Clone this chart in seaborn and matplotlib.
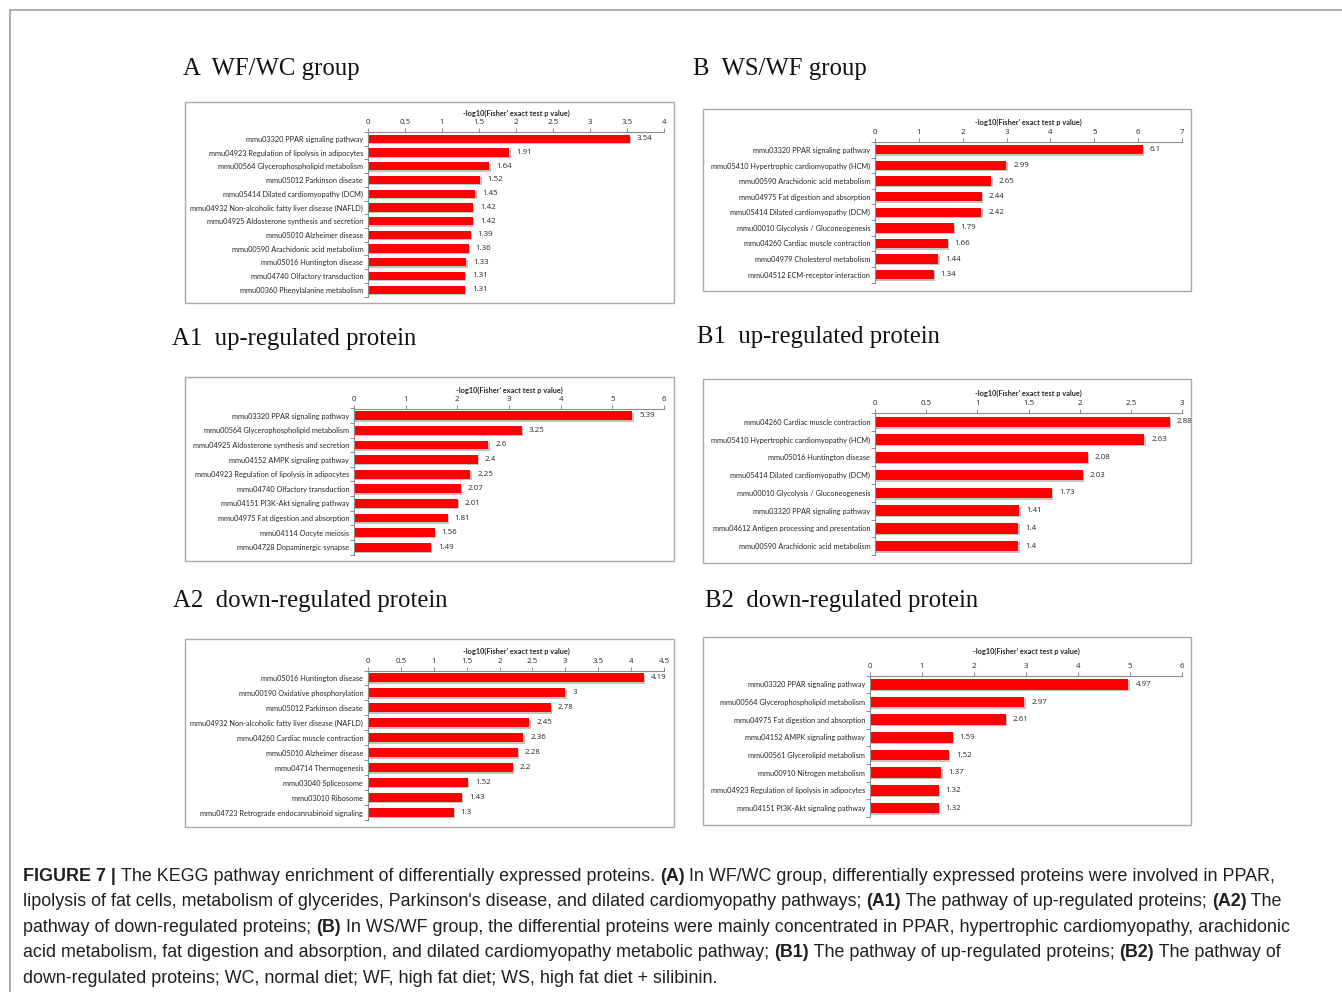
import matplotlib
matplotlib.use("Agg")
import matplotlib.pyplot as plt
import matplotlib.patheffects as pe
from matplotlib.patches import Rectangle
from matplotlib.lines import Line2D
import numpy as np
import pandas as pd
import seaborn as sns

# ---- data ----
a_terms = ["mmu03320 PPAR signaling pathway",
           "mmu04923 Regulation of lipolysis in adipocytes",
           "mmu00564 Glycerophospholipid metabolism",
           "mmu05012 Parkinson disease",
           "mmu05414 Dilated cardiomyopathy (DCM)",
           "mmu04932 Non-alcoholic fatty liver disease (NAFLD)",
           "mmu04925 Aldosterone synthesis and secretion",
           "mmu05010 Alzheimer disease",
           "mmu00590 Arachidonic acid metabolism",
           "mmu05016 Huntington disease",
           "mmu04740 Olfactory transduction",
           "mmu00360 Phenylalanine metabolism"]
a_vals = [3.54, 1.91, 1.64, 1.52, 1.45, 1.42, 1.42, 1.39, 1.36, 1.33, 1.31, 1.31]

b_terms = ["mmu03320 PPAR signaling pathway",
           "mmu05410 Hypertrophic cardiomyopathy (HCM)",
           "mmu00590 Arachidonic acid metabolism",
           "mmu04975 Fat digestion and absorption",
           "mmu05414 Dilated cardiomyopathy (DCM)",
           "mmu00010 Glycolysis / Gluconeogenesis",
           "mmu04260 Cardiac muscle contraction",
           "mmu04979 Cholesterol metabolism",
           "mmu04512 ECM-receptor interaction"]
b_vals = [6.1, 2.99, 2.65, 2.44, 2.42, 1.79, 1.66, 1.44, 1.34]

a1_terms = ["mmu03320 PPAR signaling pathway",
            "mmu00564 Glycerophospholipid metabolism",
            "mmu04925 Aldosterone synthesis and secretion",
            "mmu04152 AMPK signaling pathway",
            "mmu04923 Regulation of lipolysis in adipocytes",
            "mmu04740 Olfactory transduction",
            "mmu04151 PI3K-Akt signaling pathway",
            "mmu04975 Fat digestion and absorption",
            "mmu04114 Oocyte meiosis",
            "mmu04728 Dopaminergic synapse"]
a1_vals = [5.39, 3.25, 2.6, 2.4, 2.25, 2.07, 2.01, 1.81, 1.56, 1.49]

b1_terms = ["mmu04260 Cardiac muscle contraction",
            "mmu05410 Hypertrophic cardiomyopathy (HCM)",
            "mmu05016 Huntington disease",
            "mmu05414 Dilated cardiomyopathy (DCM)",
            "mmu00010 Glycolysis / Gluconeogenesis",
            "mmu03320 PPAR signaling pathway",
            "mmu04612 Antigen processing and presentation",
            "mmu00590 Arachidonic acid metabolism"]
b1_vals = [2.88, 2.63, 2.08, 2.03, 1.73, 1.41, 1.4, 1.4]

a2_terms = ["mmu05016 Huntington disease",
            "mmu00190 Oxidative phosphorylation",
            "mmu05012 Parkinson disease",
            "mmu04932 Non-alcoholic fatty liver disease (NAFLD)",
            "mmu04260 Cardiac muscle contraction",
            "mmu05010 Alzheimer disease",
            "mmu04714 Thermogenesis",
            "mmu03040 Spliceosome",
            "mmu03010 Ribosome",
            "mmu04723 Retrograde endocannabinoid signaling"]
a2_vals = [4.19, 3, 2.78, 2.45, 2.36, 2.28, 2.2, 1.52, 1.43, 1.3]

b2_terms = ["mmu03320 PPAR signaling pathway",
            "mmu00564 Glycerophospholipid metabolism",
            "mmu04975 Fat digestion and absorption",
            "mmu04152 AMPK signaling pathway",
            "mmu00561 Glycerolipid metabolism",
            "mmu00910 Nitrogen metabolism",
            "mmu04923 Regulation of lipolysis in adipocytes",
            "mmu04151 PI3K-Akt signaling pathway"]
b2_vals = [4.97, 2.97, 2.61, 1.59, 1.52, 1.37, 1.32, 1.32]

headings = ["A  WF/WC group", "B  WS/WF group",
            "A1  up-regulated protein", "B1  up-regulated protein",
            "A2  down-regulated protein", "B2  down-regulated protein"]
axis_title = "-log10(Fisher' exact test p value)"

# caption lines as (text, bold) segments
caption = [
    [("FIGURE 7 | ", True),
     ("The KEGG pathway enrichment of differentially expressed proteins. ", False),
     ("(A)", True),
     (" In WF/WC group, differentially expressed proteins were involved in PPAR,", False)],
    [("lipolysis of fat cells, metabolism of glycerides, Parkinson's disease, and dilated cardiomyopathy pathways; ", False),
     ("(A1)", True), (" The pathway of up-regulated proteins; ", False),
     ("(A2)", True), (" The", False)],
    [("pathway of down-regulated proteins; ", False), ("(B)", True),
     (" In WS/WF group, the differential proteins were mainly concentrated in PPAR, hypertrophic cardiomyopathy, arachidonic", False)],
    [("acid metabolism, fat digestion and absorption, and dilated cardiomyopathy metabolic pathway; ", False),
     ("(B1)", True), (" The pathway of up-regulated proteins; ", False),
     ("(B2)", True), (" The pathway of", False)],
    [("down-regulated proteins; WC, normal diet; WF, high fat diet; WS, high fat diet + silibinin.", False)],
]

# ---- layout (pixels) ----
W, H = 1342, 992
sns.set_theme(style="white")
plt.rcParams["font.family"] = ["Lato", "DejaVu Sans"]

fig = plt.figure(figsize=(W / 100, H / 100), dpi=100)
fig.patch.set_facecolor("white")

GRAY = "#8c8c8c"
TXT = "#262626"
LBL = 5.3
NUM_FONT = ["Open Sans", "DejaVu Sans"]
NUM = 5.7


def frac_rect(x0, y0, x1, y1):
    return [x0 / W, 1 - y1 / H, (x1 - x0) / W, (y1 - y0) / H]


def draw_panel(terms, vals, xmax, step, ax_px, box_px, title_y):
    bx = frac_rect(*box_px)
    fig.add_artist(Rectangle((bx[0], bx[1]), bx[2], bx[3], transform=fig.transFigure,
                             fill=False, ec="#a9a9a9", lw=1.0))
    ax = fig.add_axes(frac_rect(*ax_px))
    df = pd.DataFrame({"term": terms, "value": vals})
    sns.barplot(data=df, x="value", y="term", orient="h", color="#ff0000",
                saturation=1, width=0.6, ax=ax)
    for p in ax.patches:
        p.set_edgecolor("none")
        p.set_path_effects([pe.SimplePatchShadow(offset=(1.0, -1.0), shadow_rgbFace="#9a9a9a", alpha=0.6),
                            pe.Normal()])
    n = len(terms)
    ax.set_xlim(0, xmax)
    ax.set_ylim(n - 0.5, -0.5)
    ticks = np.arange(0, xmax + step / 2, step)
    ax.xaxis.tick_top()
    ax.set_xticks(ticks)
    ax.set_xticklabels([f"{t:g}" for t in ticks], family=NUM_FONT)
    ax.tick_params(axis="x", which="major", direction="out", length=3, width=0.7,
                   color=GRAY, labelsize=NUM, labelcolor=TXT, pad=1, top=True, bottom=False)
    ax.set_yticks(np.arange(n + 1) - 0.5, minor=True)
    ax.tick_params(axis="y", which="minor", direction="out", length=3, width=0.7, color=GRAY, left=True)
    ax.tick_params(axis="y", which="major", length=0, labelsize=LBL, labelcolor=TXT, pad=3.5)
    for s in ["bottom", "right"]:
        ax.spines[s].set_visible(False)
    for s in ["top", "left"]:
        ax.spines[s].set_color(GRAY)
        ax.spines[s].set_linewidth(0.8)
    ax.set_xlabel("")
    ax.set_ylabel("")
    ax.grid(False)
    for i, v in enumerate(vals):
        ax.annotate(f"{v:g}", xy=(v, i), xytext=(5, 0), textcoords="offset points",
                    va="center", ha="left", fontsize=NUM, family=NUM_FONT, color=TXT)
    cx = (ax_px[0] + ax_px[2]) / 2
    fig.text(cx / W, 1 - title_y / H, axis_title, ha="center", va="center",
             fontsize=LBL, fontweight="bold", color=TXT)
    return ax


draw_panel(a_terms, a_vals, 4, 0.5, (368, 132, 664, 296.5), (184.5, 101.5, 673.5, 302.5), 113)
draw_panel(b_terms, b_vals, 7, 1, (875, 142, 1182, 282.5), (703, 108.5, 1191, 290.5), 122)
draw_panel(a1_terms, a1_vals, 6, 1, (354, 408.5, 664, 554.5), (184.5, 376.5, 673.5, 561), 390)
draw_panel(b1_terms, b1_vals, 3, 0.5, (875, 413, 1182, 555), (703, 378.5, 1191, 563), 393.5)
draw_panel(a2_terms, a2_vals, 4.5, 0.5, (368, 670.5, 664, 820), (184.5, 638.5, 673.5, 826.5), 651.5)
draw_panel(b2_terms, b2_vals, 6, 1, (870, 675.5, 1182, 817), (703, 636.5, 1191, 824.5), 651.5)

# panel headings
head_pos = [(183, 75), (693, 75), (172, 345.5), (697, 343.5), (173, 607.5), (705, 607.5)]
for txt, (hx, hy) in zip(headings, head_pos):
    fig.text(hx / W, 1 - hy / H, txt, ha="left", va="baseline",
             family=["Liberation Serif", "DejaVu Serif"], fontsize=17.8, color="#111111")

# outer frame lines
fig.add_artist(Line2D([10 / W, 1], [1 - 10 / H, 1 - 10 / H], color="#a0a0a0", lw=1.2))
fig.add_artist(Line2D([10 / W, 10 / W], [1 - 10 / H, 0], color="#a0a0a0", lw=1.2))

# caption with mixed bold segments
over = fig.add_axes([0, 0, 1, 1])
over.axis("off")
cap_font = ["Liberation Sans", "DejaVu Sans"]
for li, segs in enumerate(caption):
    yc = 876.5 + 25.4 * li
    prev = None
    for s, bold in segs:
        kw = dict(fontsize=12.9, family=cap_font, color="#231f20",
                  fontweight="bold" if bold else "normal", va="center", ha="left")
        if prev is None:
            prev = over.text(23 / W, 1 - yc / H, s, transform=over.transAxes, **kw)
        else:
            prev = over.annotate(s, xy=(1, 0.5), xycoords=prev, **kw)

fig.savefig("out.png", dpi=100, facecolor="white")
